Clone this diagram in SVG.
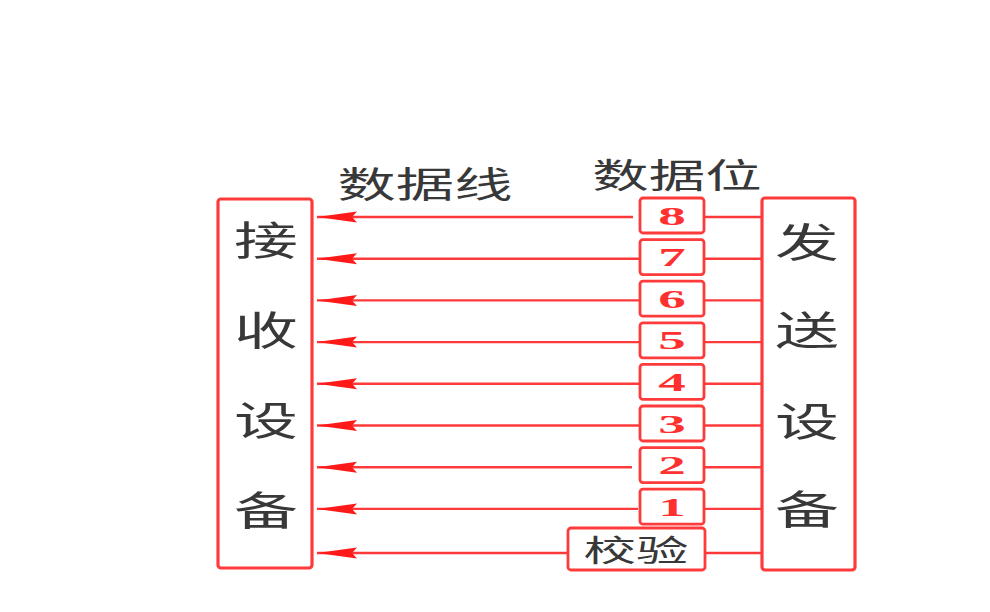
<svg xmlns="http://www.w3.org/2000/svg" width="990" height="612" viewBox="0 0 990 612">
<style>
.box{fill:#fff;stroke:#ff3a3a;stroke-width:3.2}
.bit{fill:#fff;stroke:#ff3a3a;stroke-width:2.8}
.ln{stroke:#ff3a3a;stroke-width:2.4;fill:none}
.cjk{font-family:"Noto Sans CJK SC","Noto Sans CJK JP",sans-serif;fill:#383838;text-anchor:middle}
.dig{font-family:"Liberation Serif",serif;fill:#ff3030;text-anchor:middle;font-size:25px;font-weight:bold}
</style>
<defs>
<marker id="ah" markerUnits="userSpaceOnUse" markerWidth="42" markerHeight="12" refX="40" refY="6" orient="auto" viewBox="0 0 42 12">
<path d="M0,0.5 L40,6 L0,11.5 L5,6 Z" fill="#ff1a1a"/>
</marker>
</defs>
<rect width="990" height="612" fill="#fff"/>
<g id="connectors">
<path class="ln" d="M762,217 H704 M633,217 H317" marker-end="url(#ah)"/>
<path class="ln" d="M762,258.7 H704 M640,258.7 H317" marker-end="url(#ah)"/>
<path class="ln" d="M762,300.4 H704 M640,300.4 H317" marker-end="url(#ah)"/>
<path class="ln" d="M762,342.1 H704 M640,342.1 H317" marker-end="url(#ah)"/>
<path class="ln" d="M762,383.8 H704 M640,383.8 H317" marker-end="url(#ah)"/>
<path class="ln" d="M762,425.5 H704 M640,425.5 H317" marker-end="url(#ah)"/>
<path class="ln" d="M762,467.2 H704 M632,467.2 H317" marker-end="url(#ah)"/>
<path class="ln" d="M762,508.9 H704 M638,508.9 H317" marker-end="url(#ah)"/>
<path class="ln" d="M762,553 H705 M568,553 H317" marker-end="url(#ah)"/>
</g>
<g id="receiver">
<rect class="box" x="218" y="199" width="94" height="369" rx="3"/>
<text class="cjk" font-size="40" transform="translate(266,255) scale(1.6,1)">接</text>
<text class="cjk" font-size="40" transform="translate(266,345) scale(1.6,1)">收</text>
<text class="cjk" font-size="40" transform="translate(266,435) scale(1.6,1)">设</text>
<text class="cjk" font-size="40" transform="translate(266,525) scale(1.6,1)">备</text>
</g>
<g id="sender">
<rect class="box" x="762" y="198" width="93" height="372" rx="3"/>
<text class="cjk" font-size="40" transform="translate(807,257) scale(1.6,1)">发</text>
<text class="cjk" font-size="40" transform="translate(807,345) scale(1.6,1)">送</text>
<text class="cjk" font-size="40" transform="translate(807,436) scale(1.6,1)">设</text>
<text class="cjk" font-size="40" transform="translate(807,524) scale(1.6,1)">备</text>
</g>
<g id="label-dataline">
<text class="cjk" font-size="36" transform="translate(425,198) scale(1.62,1)">数据线</text>
</g>
<g id="label-databit">
<text class="cjk" font-size="34" transform="translate(677,188) scale(1.66,1)">数据位</text>
</g>
<g id="bit8"><rect class="bit" x="640" y="198" width="64" height="35" rx="3"/><text class="dig" transform="translate(672,224.5) scale(2.2,1)">8</text></g>
<g id="bit7"><rect class="bit" x="640" y="239.6" width="64" height="35" rx="3"/><text class="dig" transform="translate(672,266.1) scale(2.2,1)">7</text></g>
<g id="bit6"><rect class="bit" x="640" y="281.2" width="64" height="35" rx="3"/><text class="dig" transform="translate(672,307.7) scale(2.2,1)">6</text></g>
<g id="bit5"><rect class="bit" x="640" y="322.8" width="64" height="35" rx="3"/><text class="dig" transform="translate(672,349.3) scale(2.2,1)">5</text></g>
<g id="bit4"><rect class="bit" x="640" y="364.4" width="64" height="35" rx="3"/><text class="dig" transform="translate(672,390.9) scale(2.2,1)">4</text></g>
<g id="bit3"><rect class="bit" x="640" y="406" width="64" height="35" rx="3"/><text class="dig" transform="translate(672,432.5) scale(2.2,1)">3</text></g>
<g id="bit2"><rect class="bit" x="640" y="447.6" width="64" height="35" rx="3"/><text class="dig" transform="translate(672,474.1) scale(2.2,1)">2</text></g>
<g id="bit1"><rect class="bit" x="640" y="489.2" width="64" height="35" rx="3"/><text class="dig" transform="translate(672,515.7) scale(2.2,1)">1</text></g>
<g id="parity"><rect class="bit" x="568" y="528" width="137" height="42" rx="3"/><text class="cjk" font-size="30" transform="translate(636,561) scale(1.75,1)">校验</text></g>
</svg>
